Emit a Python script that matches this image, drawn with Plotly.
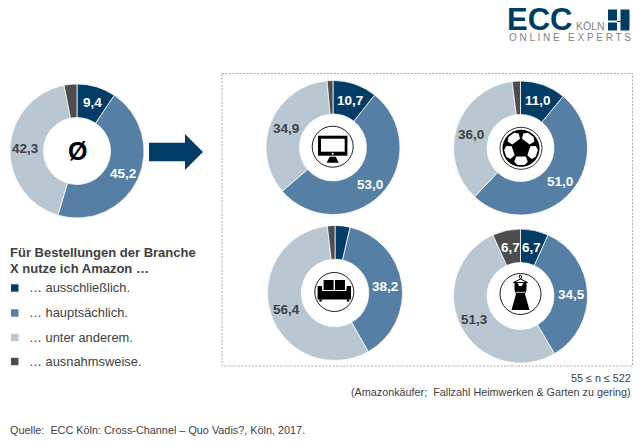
"""
Amazon usage per branch: five donuts with icons, legend and ECC logo.
Everything is placed in pixels of the 643x445 page, see px() / py().
"""
import math

import plotly.graph_objects as go

WIDTH = 643
HEIGHT = 445

# ── Colors ──
NAVY = "#003D66"
STEEL = "#557FA5"
SILVER = "#B9C7D2"
GRAPHITE = "#4D4D4D"
TEXT = "#404040"
LOGO_GREY = "#7F7F7F"
WHITE = "#FFFFFF"
FONT = "Liberation Sans"

# ── Data ──
categories = ["… ausschließlich.", "… hauptsächlich.", "… unter anderem.", "… ausnahmsweise."]
avg_values = [9.4, 45.2, 42.3, 3.1]
tv_values = [10.7, 53.0, 34.9, 1.4]
ball_values = [11.0, 51.0, 36.0, 2.0]
sofa_values = [3.6, 38.2, 56.4, 1.8]
dress_values = [6.7, 34.5, 51.3, 6.7]

legend_title = ["Für Bestellungen der Branche", "X nutze ich Amazon …"]
footnotes = ["55 ≤ n ≤ 522", "(Amazonkäufer;  Fallzahl Heimwerken & Garten zu gering)"]
source = "Quelle:  ECC Köln: Cross-Channel – Quo Vadis?, Köln, 2017."

COLORS = [NAVY, STEEL, SILVER, GRAPHITE]

# values, center x, center y, radius
donuts = [
    (avg_values, 77, 151, 67),
    (tv_values, 333, 147.5, 67),
    (ball_values, 520.5, 148, 67),
    (sofa_values, 335, 293, 67.5),
    (dress_values, 520.5, 296, 67),
]

# text, x, y, color
value_labels = [
    ("9,4", 92, 102.5, WHITE), ("45,2", 123, 173, WHITE), ("42,3", 25.5, 148, TEXT),
    ("10,7", 350, 100.5, WHITE), ("53,0", 370, 184, WHITE), ("34,9", 286, 129, TEXT),
    ("11,0", 537.5, 100.5, WHITE), ("51,0", 559.5, 181.5, WHITE), ("36,0", 471, 134, TEXT),
    ("38,2", 385, 286, WHITE), ("56,4", 286, 309, TEXT),
    ("6,7", 510, 247.5, WHITE), ("6,7", 531, 247.5, WHITE), ("34,5", 571.5, 294, WHITE),
    ("51,3", 474, 319.5, TEXT),
]


def px(x):
    return x / WIDTH


def py(y):
    return 1 - y / HEIGHT


def poly(points, fill=None, line=None, width=1):
    path = "M" + " L".join(f"{px(x):.5f},{py(y):.5f}" for x, y in points) + " Z"
    return dict(type="path", xref="paper", yref="paper", path=path,
                fillcolor=fill or "rgba(0,0,0,0)",
                line=dict(color=line or "rgba(0,0,0,0)", width=width if line else 0))


def box(x0, y0, x1, y1, fill=None, line=None, width=1, dash=None):
    return dict(type="rect", xref="paper", yref="paper",
                x0=px(x0), x1=px(x1), y0=py(y0), y1=py(y1),
                fillcolor=fill or "rgba(0,0,0,0)",
                line=dict(color=line or "rgba(0,0,0,0)", width=width if line else 0, dash=dash))


def disc(cx, cy, r, fill=None, line=None, width=1):
    return dict(type="circle", xref="paper", yref="paper",
                x0=px(cx - r), x1=px(cx + r), y0=py(cy - r), y1=py(cy + r),
                fillcolor=fill or "rgba(0,0,0,0)",
                line=dict(color=line or "rgba(0,0,0,0)", width=width if line else 0))


def text(s, x, y, size, color=TEXT, bold=False, anchor="left", family=FONT):
    # annotations carry about 3px of padding on their left/right side
    if anchor == "left":
        x -= 3
    elif anchor == "right":
        x += 1
    return dict(text=f"<b>{s}</b>" if bold else s, xref="paper", yref="paper",
                x=px(x), y=py(y), xanchor=anchor, yanchor="middle", showarrow=False,
                font=dict(family=family, size=size, color=color))


def polar(cx, cy, angle, r):
    a = math.radians(angle)
    return (cx + r * math.sin(a), cy - r * math.cos(a))


def monitor_icon(cx, cy):
    return [
        disc(cx, cy, 20.5, line="#1A1A1A", width=1),
        box(cx - 14.7, cy - 11, cx + 14.7, cy + 9, fill="black"),
        box(cx - 11.7, cy - 8, cx + 12, cy + 5, fill=WHITE),
        disc(cx, cy + 7, 1, fill=WHITE),
        poly([(cx - 3, cy + 10), (cx + 3, cy + 10), (cx + 6, cy + 16), (cx - 6, cy + 16)], fill="black"),
    ]


def ball_icon(cx, cy):
    shapes = [
        disc(cx, cy, 21, line="#333333", width=1),
        disc(cx, cy, 18.5, fill="black"),
    ]
    for t in (36, 108, 180, 252, 324):
        shapes.append(poly([polar(cx, cy, t - 30, 9.5), polar(cx, cy, t + 30, 9.5),
                            polar(cx, cy, t + 27, 15), polar(cx, cy, t + 12, 17),
                            polar(cx, cy, t - 12, 17), polar(cx, cy, t - 27, 15)], fill=WHITE))
    return shapes


def sofa_icon(cx, cy):
    return [
        disc(cx, cy, 19.5, line="#1A1A1A", width=1),
        box(cx - 10.7, cy - 12, cx - 0.7, cy - 2, fill="black"),
        box(cx + 0.7, cy - 12, cx + 10.7, cy - 2, fill="black"),
        poly([(cx - 16.7, cy - 6), (cx - 12.5, cy - 6), (cx - 12, cy - 1), (cx + 12, cy - 1), (cx + 12.5, cy - 6),
              (cx + 16.7, cy - 6), (cx + 16.7, cy + 7.5), (cx - 16.7, cy + 7.5)], fill="black"),
        box(cx - 15, cy + 7.5, cx - 12.5, cy + 9.5, fill="black"),
        box(cx + 12.5, cy + 7.5, cx + 15, cy + 9.5, fill="black"),
    ]


def dress_icon(cx, cy):
    return [
        disc(cx, cy, 20.5, line="#1A1A1A", width=1),
        poly([(cx - 6, cy - 12), (cx - 3, cy - 12), (cx - 1.5, cy - 8), (cx + 1.5, cy - 8), (cx + 3, cy - 12),
              (cx + 6, cy - 12), (cx + 6, cy - 4), (cx + 4.5, cy), (cx + 9, cy + 16), (cx - 9, cy + 16),
              (cx - 4.5, cy), (cx - 6, cy - 4)], fill="black"),
        box(cx - 4.6, cy - 2.2, cx + 4.6, cy - 1.2, fill="#CCCCCC"),
        poly([(cx - 7, cy - 11.5), (cx, cy - 15), (cx + 7, cy - 11.5)], line="black", width=1),
        poly([(cx, cy - 15), (cx + 1.5, cy - 17), (cx, cy - 19), (cx - 1.5, cy - 18)], line="black", width=1),
    ]


fig = go.Figure()

for values, cx, cy, r in donuts:
    fig.add_trace(go.Pie(
        labels=categories,
        values=values,
        hole=0.5,
        sort=False,
        direction="clockwise",
        rotation=0,
        textinfo="none",
        marker=dict(colors=COLORS, line=dict(color=WHITE, width=0.75)),
        domain=dict(x=[px(cx - r), px(cx + r)], y=[py(cy + r), py(cy - r)]),
        showlegend=False,
    ))

shapes = [
    box(222, 73.5, 632.5, 366, line="#ABABAB", width=1, dash="2px,1.5px"),
    # arrow
    poly([(149, 142.7), (185, 142.7), (185, 134), (203, 152), (185, 170), (185, 161.3), (149, 161.3)], fill=NAVY),
    # logo block
    box(608, 9.5, 617, 20.5, fill=NAVY),
    box(608, 22.5, 617, 30.5, fill=NAVY),
    box(620.5, 9.5, 629.5, 30.5, fill=NAVY),
    box(617, 21, 620.5, 22, fill=NAVY),
]
shapes += monitor_icon(332.7, 146.7)
shapes += ball_icon(521, 148.3)
shapes += sofa_icon(334.3, 292)
shapes += dress_icon(520.5, 294)

annotations = [text(s, x, y, 13.5, color=c, bold=True, anchor="center") for s, x, y, c in value_labels]
annotations.append(text("Ø", 77, 151, 25, color="black", bold=True, anchor="center"))

# legend
annotations.append(text(legend_title[0], 10.5, 252, 13, bold=True))
annotations.append(text(legend_title[1], 10.5, 268, 13, bold=True))
for name, color, y in zip(categories, COLORS, [288, 313, 337.5, 361.5]):
    shapes.append(box(11, y - 3.7, 18.5, y + 3.7, fill=color))
    annotations.append(text(name, 30, y - 0.5, 12.9))

annotations.append(text(footnotes[0], 632, 377.5, 10.8, anchor="right"))
annotations.append(text(footnotes[1], 632, 391.5, 10.8, anchor="right"))
annotations.append(text(source, 10.5, 430, 10.85))

# logo text
annotations.append(text("ECC", 508, 19.5, 31, color=NAVY, bold=True))
annotations.append(text("KÖLN", 577, 26.5, 10.5, color=LOGO_GREY))
annotations.append(text("O N L I N E   E X P E R T S", 509.5, 37, 10, color=LOGO_GREY))

fig.update_layout(
    width=WIDTH,
    height=HEIGHT,
    margin=dict(l=0, r=0, t=0, b=0),
    paper_bgcolor=WHITE,
    plot_bgcolor=WHITE,
    font=dict(family=FONT, color=TEXT),
    shapes=shapes,
    annotations=annotations,
)

fig.write_html("out.html", config=dict(displayModeBar=False),
               post_script="document.body.style.margin='0';")
